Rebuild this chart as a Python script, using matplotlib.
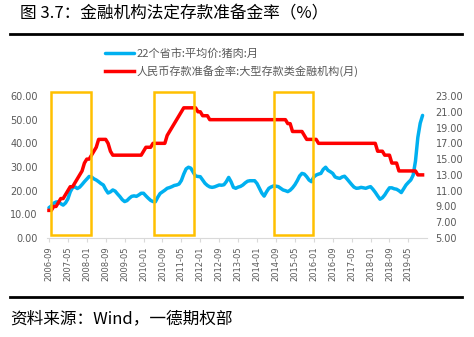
import numpy as np
import pandas as pd
import matplotlib
matplotlib.use("Agg")
import matplotlib.pyplot as plt
from matplotlib.lines import Line2D
from matplotlib.patches import Rectangle

plt.rcParams['font.family'] = ['Noto Sans CJK SC', 'DejaVu Sans']

# monthly, 2006-09 .. 2019-11
months = pd.period_range('2006-09', '2019-11', freq='M')

# 22个省市:平均价:猪肉 (元/kg)
pork = [
    12.8, 13.5, 14.7, 15.2,                                            # 2006
    15.3, 14.5, 13.9, 14.8, 16.5, 19.5, 21.3, 21.6, 20.9, 21.5, 22.6, 23.8,  # 2007
    24.9, 26.0, 25.8, 25.0, 24.5, 23.8, 23.0, 22.4, 20.5, 19.0, 19.5, 20.3,  # 2008
    19.8, 18.6, 17.5, 16.2, 15.4, 15.8, 16.8, 17.6, 17.8, 17.6, 18.2, 18.9,  # 2009
    18.9, 17.8, 16.8, 15.9, 15.4, 15.3, 17.2, 18.8, 19.5, 20.2, 21.0, 21.3,  # 2010
    21.7, 22.2, 22.4, 22.8, 24.3, 27.0, 29.2, 29.9, 29.5, 27.8, 26.2, 26.0,  # 2011
    25.9, 24.5, 23.1, 22.2, 21.6, 21.4, 21.6, 22.0, 22.4, 22.3, 22.5, 23.8,  # 2012
    25.6, 23.8, 21.4, 21.0, 21.5, 21.8, 22.4, 23.3, 24.0, 24.2, 24.2, 24.2,  # 2013
    23.0, 21.0, 19.0, 17.7, 19.5, 21.0, 21.6, 22.0, 21.9, 21.7, 21.0, 20.3,  # 2014
    20.0, 19.6, 20.2, 21.2, 22.5, 24.2, 26.2, 27.3, 27.0, 25.9, 24.5, 23.8,  # 2015
    25.8, 26.6, 27.0, 27.3, 29.0, 29.9, 28.6, 28.0, 27.3, 25.8, 25.4, 25.2,  # 2016
    25.8, 26.1, 25.0, 23.8, 22.6, 21.5, 21.0, 21.1, 21.4, 21.2, 21.0, 21.4,  # 2017
    21.7, 20.6, 19.3, 17.8, 16.4, 17.0, 18.2, 19.8, 21.2, 21.2, 20.8, 20.6,  # 2018
    20.0, 19.2, 20.8, 22.4, 23.5, 24.5, 26.5, 32.5, 42.5, 48.5, 51.8,        # 2019
]

# 人民币存款准备金率:大型存款类金融机构 (%)
rrr = [
    8.5, 8.5, 9.0, 9.0,                                                # 2006
    9.5, 10.0, 10.0, 10.5, 11.0, 11.5, 11.5, 12.0, 12.5, 13.0, 13.5, 14.5,  # 2007
    15.0, 15.0, 15.5, 16.0, 16.5, 17.5, 17.5, 17.5, 17.5, 17.0, 16.0, 15.5,  # 2008
    15.5, 15.5, 15.5, 15.5, 15.5, 15.5, 15.5, 15.5, 15.5, 15.5, 15.5, 15.5,  # 2009
    16.0, 16.5, 16.5, 16.5, 17.0, 17.0, 17.0, 17.0, 17.0, 17.0, 18.0, 18.5,  # 2010
    19.0, 19.5, 20.0, 20.5, 21.0, 21.5, 21.5, 21.5, 21.5, 21.5, 21.5, 21.0,  # 2011
    21.0, 20.5, 20.5, 20.5, 20.0, 20.0, 20.0, 20.0, 20.0, 20.0, 20.0, 20.0,  # 2012
    20.0, 20.0, 20.0, 20.0, 20.0, 20.0, 20.0, 20.0, 20.0, 20.0, 20.0, 20.0,  # 2013
    20.0, 20.0, 20.0, 20.0, 20.0, 20.0, 20.0, 20.0, 20.0, 20.0, 20.0, 20.0,  # 2014
    20.0, 19.5, 19.5, 18.5, 18.5, 18.5, 18.5, 18.5, 18.0, 17.5, 17.5, 17.5,  # 2015
    17.5, 17.5, 17.0, 17.0, 17.0, 17.0, 17.0, 17.0, 17.0, 17.0, 17.0, 17.0,  # 2016
    17.0, 17.0, 17.0, 17.0, 17.0, 17.0, 17.0, 17.0, 17.0, 17.0, 17.0, 17.0,  # 2017
    17.0, 17.0, 17.0, 16.0, 16.0, 16.0, 15.5, 15.5, 15.5, 14.5, 14.5, 14.5,  # 2018
    13.5, 13.5, 13.5, 13.5, 13.5, 13.5, 13.5, 13.5, 13.0, 13.0, 13.0,        # 2019
]

tick_labels = ['2006-09', '2007-05', '2008-01', '2008-09', '2009-05', '2010-01',
               '2010-09', '2011-05', '2012-01', '2012-09', '2013-05', '2014-01',
               '2014-09', '2015-05', '2016-01', '2016-09', '2017-05', '2018-01',
               '2018-09', '2019-05']

# highlighted periods (month index, start/end)
spans = [(0.7, 17.6), (44.5, 61.4), (95.3, 111.8)]

x = np.arange(len(months))
month_str = [str(p) for p in months]
tick_pos = [month_str.index(t) for t in tick_labels]

grey = '#595959'
fig = plt.figure(figsize=(4.74, 3.37), dpi=100)
ax = fig.add_axes([47.3 / 474, 99 / 337, 380 / 474, 142 / 337])
ax2 = ax.twinx()

l1, = ax.plot(x, pork, color='#00B0F0', lw=2.5, solid_capstyle='round',
              label='22个省市:平均价:猪肉:月')
l2, = ax2.plot(x, rrr, color='#FF0000', lw=2.5,
               label='人民币存款准备金率:大型存款类金融机构(月)')

ax.set_xlim(-0.7, 160)
ax.set_ylim(0, 60)
ax.set_yticks(np.arange(0, 61, 10))
ax.set_yticklabels([f'{v:.2f}' for v in np.arange(0, 61, 10)])
ax2.set_ylim(5, 23)
ax2.set_yticks(np.arange(5, 24, 2))
ax2.set_yticklabels([f'{v:.2f}' for v in np.arange(5, 24, 2)])

ax.set_xticks(tick_pos)
ax.set_xticklabels(tick_labels, rotation=90)

for a in (ax, ax2):
    for s in ('top', 'left', 'right'):
        a.spines[s].set_visible(False)
    a.spines['bottom'].set_color('#D9D9D9')
ax2.spines['bottom'].set_visible(False)

ax.tick_params(axis='x', length=3, color='#D9D9D9', pad=3, labelsize=6, labelcolor=grey)
ax.tick_params(axis='y', length=0, pad=7, labelsize=7, labelcolor=grey)
ax2.tick_params(axis='y', length=0, pad=6, labelsize=7, labelcolor=grey)
for lab in ax.get_xticklabels() + ax.get_yticklabels() + ax2.get_yticklabels():
    lab.set_family('DejaVu Sans')

for x0, x1 in spans:
    ax2.add_patch(Rectangle((x0, 5 + 1.3 * 0.3), x1 - x0, 61.7 * 0.3 - 1.3 * 0.3,
                            fill=False, ec='#FFC000', lw=1.8, clip_on=False, zorder=5))

fig.legend(handles=[l1, l2], loc='upper left', bbox_to_anchor=(105 / 474, 1 - 48 / 337),
           frameon=False, fontsize=8, labelcolor=grey, handlelength=2.6,
           handletextpad=0.2, labelspacing=0.55, borderpad=0, borderaxespad=0)

fig.text(20 / 474, 1 - 14 / 337, '图 3.7：金融机构法定存款准备金率（%）',
         fontsize=12, va='center', ha='left', color='black')
fig.add_artist(Line2D([10 / 474, 462 / 474], [1 - 34 / 337] * 2, lw=2, color='black'))
fig.add_artist(Line2D([10 / 474, 462 / 474], [1 - 297 / 337] * 2, lw=2, color='black'))
fig.text(10 / 474, 1 - 319 / 337, '资料来源：Wind，一德期权部',
         fontsize=12, va='center', ha='left', color='black')

fig.savefig('out.png', dpi=100)
